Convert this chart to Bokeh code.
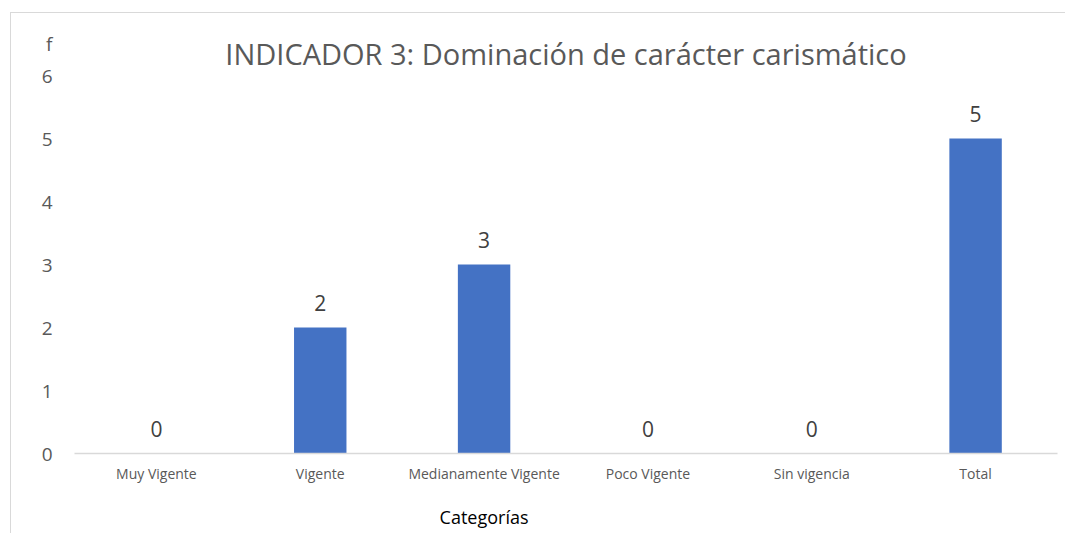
from bokeh.plotting import figure
from bokeh.models import ColumnDataSource, Range1d, FixedTicker, LabelSet, LinearAxis
from bokeh.core.properties import value
from bokeh.embed import file_html
from bokeh.resources import INLINE

categories = ["Muy Vigente", "Vigente", "Medianamente Vigente", "Poco Vigente", "Sin vigencia", "Total"]
counts = [0, 2, 3, 0, 0, 5]
y_ticks = [0, 1, 2, 3, 4, 5, 6]
y_title = "f"
x_title = "Categorías"
x_title_under = "Medianamente Vigente"

FONT = "Open Sans"
xs = [i + 0.5 for i in range(len(categories))]
src = ColumnDataSource(dict(x=xs, cat=categories, val=counts, lab=[str(v) for v in counts]))
x_title_pos = xs[categories.index(x_title_under)]

p = figure(x_range=Range1d(0, len(categories)), y_range=Range1d(0, 6),
           width=1055, height=521, output_backend="svg", toolbar_location=None,
           min_border_left=63, min_border_right=9, min_border_top=62, min_border_bottom=81,
           title="INDICADOR 3: Dominación de carácter carismático",
           styles={"border-left": "1px solid #d9d9d9", "border-top": "1px solid #d9d9d9",
                   "margin-left": "10px", "margin-top": "12px"})
p.outline_line_color = None
p.xgrid.grid_line_color = None
p.ygrid.grid_line_color = None

p.title.align = "center"
p.title.text_font = FONT
p.title.text_font_size = "29px"
p.title.text_font_style = "normal"
p.title.text_color = "#595959"
p.title.standoff = 6

p.vbar(x="x", top="val", width=0.32, source=src, color="#4472C4", line_color=None)

labels = LabelSet(x="x", y="val", text="lab", source=src, text_align="center",
                  text_baseline="bottom", y_offset=17, text_font=value(FONT),
                  text_font_size="21px", text_color="#404040")
p.add_layout(labels)

p.xaxis.ticker = FixedTicker(ticks=xs)
p.xaxis.major_label_overrides = dict(zip(xs, categories))
p.xaxis.axis_line_color = "#d9d9d9"
p.xaxis.axis_line_width = 1.5
p.xaxis.major_tick_line_color = None
p.xaxis.major_tick_out = 0
p.xaxis.minor_tick_line_color = None
p.xaxis.minor_tick_out = 0
p.xaxis.major_label_text_font = FONT
p.xaxis.major_label_text_font_size = "14px"
p.xaxis.major_label_text_color = "#595959"
p.xaxis.major_label_standoff = 10

ax2 = LinearAxis(ticker=FixedTicker(ticks=[x_title_pos]),
                 axis_line_color=None, major_tick_line_color=None, major_tick_out=0,
                 minor_tick_line_color=None, minor_tick_out=0, major_label_standoff=19,
                 major_label_text_font=FONT, major_label_text_font_size="18px",
                 major_label_text_color="#000000",
                 major_label_overrides={x_title_pos: x_title})
p.add_layout(ax2, "below")

p.yaxis.ticker = FixedTicker(ticks=y_ticks)
p.yaxis.axis_line_color = None
p.yaxis.major_tick_line_color = None
p.yaxis.major_tick_out = 0
p.yaxis.minor_tick_line_color = None
p.yaxis.minor_tick_out = 0
p.yaxis.major_label_text_font = FONT
p.yaxis.major_label_text_font_size = "19px"
p.yaxis.major_label_text_line_height = 1.2
p.yaxis.major_label_text_color = "#595959"
p.yaxis.major_label_standoff = 22
p.yaxis.major_label_overrides = {y_ticks[-1]: y_title + "\n" + str(y_ticks[-1]) + "\n\u00a0"}

open("out.html", "w").write(file_html(p, INLINE))
